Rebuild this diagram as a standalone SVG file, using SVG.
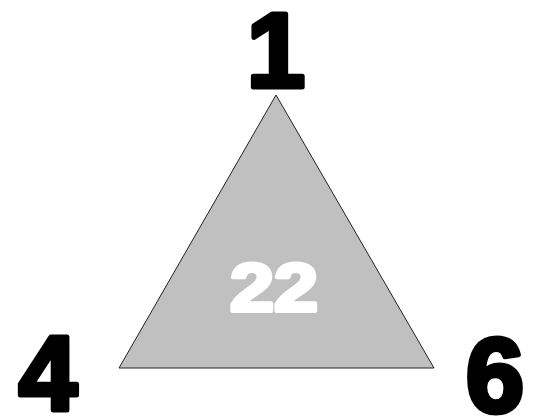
<svg xmlns="http://www.w3.org/2000/svg" width="533" height="417" viewBox="0 0 533 417">
<style>
.lbl{font-family:"Liberation Sans",Arial,sans-serif;font-weight:bold;text-anchor:middle;fill:#000;stroke:#000;stroke-width:5;stroke-linejoin:round}
.inner{font-family:"Liberation Sans",Arial,sans-serif;font-weight:bold;text-anchor:middle;fill:#fff;stroke:#fff;stroke-width:4;stroke-linejoin:round}
</style>
<rect width="533" height="417" fill="#fff"/>
<g id="face">
<polygon points="276,95 119,368 434,368" fill="#c0c0c0" stroke="#222" stroke-width="1"/>
<text class="inner" x="274" y="311" font-size="68" textLength="88" lengthAdjust="spacingAndGlyphs">22</text>
</g>
<g id="connectors"></g>
<g id="v1"><text class="lbl" x="276" y="87" font-size="105">1</text></g>
<g id="v4"><text class="lbl" x="48" y="410" font-size="105">4</text></g>
<g id="v6"><text class="lbl" x="495" y="412" font-size="105">6</text></g>
</svg>
